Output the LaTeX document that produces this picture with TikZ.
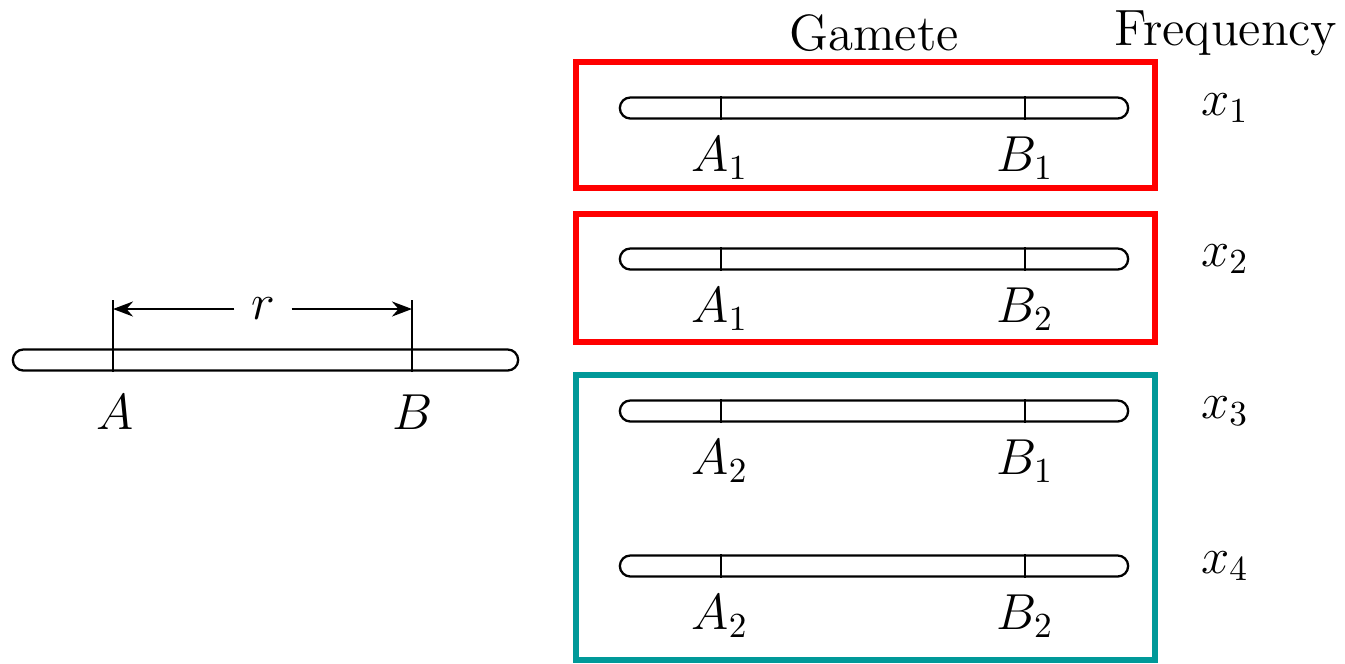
\documentclass[tikz,border=0pt]{standalone}
\usetikzlibrary{shapes.misc,arrows.meta}
\definecolor{boxred}{RGB}{255,0,0}
\definecolor{boxteal}{RGB}{0,153,153}
\begin{document}
\begin{tikzpicture}[x=0.01cm,y=-0.01cm,
  chrom/.style={draw, rounded rectangle, minimum height=0.21cm, inner sep=0pt, line width=0.65pt},
  locus/.style={line width=0.65pt},
  lbl/.style={font=\fontsize{14.5}{17}\selectfont, inner sep=0pt},
  groupbox/.style={line width=1.5pt},
  span/.style={line width=0.7pt, -{Stealth[length=0.2cm,width=0.15cm]}}]
\useasboundingbox (0,0) rectangle (1345,663);

% single chromosome with loci A and B
\node[chrom, minimum width=5.05cm] (c0) at (265.5,360) {};
\draw[locus] (113,300) coordinate (tA) -- (c0.south -| tA);
\draw[locus] (412,300) coordinate (tB) -- (c0.south -| tB);
\node[lbl] (r) at (263,309) {$r$};
\coordinate (pA) at (113,309);
\coordinate (pB) at (412,309);
\draw[span] ([xshift=-0.16cm]r.west) -- (pA);
\draw[span] ([xshift=0.16cm]r.east) -- (pB);
\node[lbl] (lA) at (115,412) {$A$};
\node[lbl] (lB) at (413,412) {$B$};

% column headings
\node[lbl] (hg) at (874,33) {Gamete};
\node[lbl] (hf) at (1226,33) {Frequency};

% gamete chromosomes
\foreach \i/\y/\a/\b in {1/108/1/1, 2/259/1/2, 3/411/2/1, 4/566/2/2}{
  \node[chrom, minimum width=5.08cm] (g\i) at (874,\y) {};
  \draw[locus] (g\i.north -| 721,0) -- (g\i.south -| 721,0);
  \draw[locus] (g\i.north -| 1025,0) -- (g\i.south -| 1025,0);
  \node[lbl] (a\i) at (720,\y+50) {$A_{\a}$};
  \node[lbl] (b\i) at (1025,\y+50) {$B_{\b}$};
  \node[lbl] (x\i) at (1225,\y) {$x_{\i}$};
}

% groupings of gametes
\draw[groupbox, boxred] (576,62) rectangle (1155,188);
\draw[groupbox, boxred] (576,214) rectangle (1155,342);
\draw[groupbox, boxteal] (576,375) rectangle (1155,660);
\end{tikzpicture}
\end{document}
